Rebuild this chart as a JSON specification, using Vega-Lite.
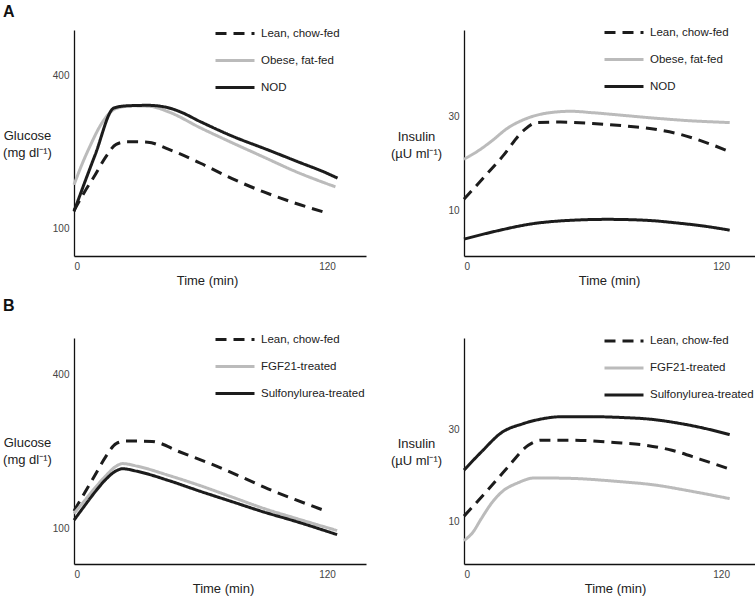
{
  "$schema": "https://vega.github.io/schema/vega-lite/v6.json",
  "background": "white",
  "padding": {"left": 2, "top": 4, "right": 0, "bottom": 2},
  "datasets": {
    "curves": [
      {"panel": "A-glu", "series": "Lean, chow-fed", "t": 0, "v": 136},
      {"panel": "A-glu", "series": "Lean, chow-fed", "t": 5, "v": 172},
      {"panel": "A-glu", "series": "Lean, chow-fed", "t": 10, "v": 205},
      {"panel": "A-glu", "series": "Lean, chow-fed", "t": 15, "v": 240},
      {"panel": "A-glu", "series": "Lean, chow-fed", "t": 20, "v": 265},
      {"panel": "A-glu", "series": "Lean, chow-fed", "t": 25, "v": 270},
      {"panel": "A-glu", "series": "Lean, chow-fed", "t": 35, "v": 269},
      {"panel": "A-glu", "series": "Lean, chow-fed", "t": 45, "v": 255},
      {"panel": "A-glu", "series": "Lean, chow-fed", "t": 60, "v": 228},
      {"panel": "A-glu", "series": "Lean, chow-fed", "t": 75, "v": 198},
      {"panel": "A-glu", "series": "Lean, chow-fed", "t": 90, "v": 172},
      {"panel": "A-glu", "series": "Lean, chow-fed", "t": 105, "v": 150},
      {"panel": "A-glu", "series": "Lean, chow-fed", "t": 120, "v": 131},
      {"panel": "A-glu", "series": "Obese, fat-fed", "t": 0, "v": 186},
      {"panel": "A-glu", "series": "Obese, fat-fed", "t": 4, "v": 228},
      {"panel": "A-glu", "series": "Obese, fat-fed", "t": 8, "v": 265},
      {"panel": "A-glu", "series": "Obese, fat-fed", "t": 12, "v": 298},
      {"panel": "A-glu", "series": "Obese, fat-fed", "t": 16, "v": 322},
      {"panel": "A-glu", "series": "Obese, fat-fed", "t": 20, "v": 335},
      {"panel": "A-glu", "series": "Obese, fat-fed", "t": 28, "v": 340},
      {"panel": "A-glu", "series": "Obese, fat-fed", "t": 36, "v": 339},
      {"panel": "A-glu", "series": "Obese, fat-fed", "t": 45, "v": 328},
      {"panel": "A-glu", "series": "Obese, fat-fed", "t": 60, "v": 297},
      {"panel": "A-glu", "series": "Obese, fat-fed", "t": 75, "v": 268},
      {"panel": "A-glu", "series": "Obese, fat-fed", "t": 90, "v": 240},
      {"panel": "A-glu", "series": "Obese, fat-fed", "t": 105, "v": 212},
      {"panel": "A-glu", "series": "Obese, fat-fed", "t": 124, "v": 182},
      {"panel": "A-glu", "series": "NOD", "t": 0, "v": 134},
      {"panel": "A-glu", "series": "NOD", "t": 10, "v": 244},
      {"panel": "A-glu", "series": "NOD", "t": 19, "v": 336},
      {"panel": "A-glu", "series": "NOD", "t": 25, "v": 340},
      {"panel": "A-glu", "series": "NOD", "t": 35, "v": 341},
      {"panel": "A-glu", "series": "NOD", "t": 44, "v": 337},
      {"panel": "A-glu", "series": "NOD", "t": 50, "v": 329},
      {"panel": "A-glu", "series": "NOD", "t": 60, "v": 309},
      {"panel": "A-glu", "series": "NOD", "t": 75, "v": 281},
      {"panel": "A-glu", "series": "NOD", "t": 92, "v": 254},
      {"panel": "A-glu", "series": "NOD", "t": 108, "v": 228},
      {"panel": "A-glu", "series": "NOD", "t": 118, "v": 212},
      {"panel": "A-glu", "series": "NOD", "t": 125, "v": 199},

      {"panel": "A-ins", "series": "Lean, chow-fed", "t": 0, "v": 12.5},
      {"panel": "A-ins", "series": "Lean, chow-fed", "t": 9, "v": 17},
      {"panel": "A-ins", "series": "Lean, chow-fed", "t": 18, "v": 21.6},
      {"panel": "A-ins", "series": "Lean, chow-fed", "t": 28, "v": 27.2},
      {"panel": "A-ins", "series": "Lean, chow-fed", "t": 34, "v": 28.8},
      {"panel": "A-ins", "series": "Lean, chow-fed", "t": 45, "v": 28.9},
      {"panel": "A-ins", "series": "Lean, chow-fed", "t": 60, "v": 28.6},
      {"panel": "A-ins", "series": "Lean, chow-fed", "t": 75, "v": 28.1},
      {"panel": "A-ins", "series": "Lean, chow-fed", "t": 90, "v": 27.3},
      {"panel": "A-ins", "series": "Lean, chow-fed", "t": 100, "v": 26.4},
      {"panel": "A-ins", "series": "Lean, chow-fed", "t": 112, "v": 24.7},
      {"panel": "A-ins", "series": "Lean, chow-fed", "t": 124, "v": 22.6},
      {"panel": "A-ins", "series": "Obese, fat-fed", "t": 0, "v": 21},
      {"panel": "A-ins", "series": "Obese, fat-fed", "t": 6, "v": 22.6},
      {"panel": "A-ins", "series": "Obese, fat-fed", "t": 13, "v": 24.9},
      {"panel": "A-ins", "series": "Obese, fat-fed", "t": 20, "v": 27.5},
      {"panel": "A-ins", "series": "Obese, fat-fed", "t": 30, "v": 29.8},
      {"panel": "A-ins", "series": "Obese, fat-fed", "t": 40, "v": 30.9},
      {"panel": "A-ins", "series": "Obese, fat-fed", "t": 50, "v": 31.2},
      {"panel": "A-ins", "series": "Obese, fat-fed", "t": 60, "v": 30.9},
      {"panel": "A-ins", "series": "Obese, fat-fed", "t": 75, "v": 30.3},
      {"panel": "A-ins", "series": "Obese, fat-fed", "t": 90, "v": 29.7},
      {"panel": "A-ins", "series": "Obese, fat-fed", "t": 105, "v": 29.2},
      {"panel": "A-ins", "series": "Obese, fat-fed", "t": 124, "v": 28.8},
      {"panel": "A-ins", "series": "NOD", "t": 0, "v": 4.0},
      {"panel": "A-ins", "series": "NOD", "t": 15, "v": 5.7},
      {"panel": "A-ins", "series": "NOD", "t": 31, "v": 7.2},
      {"panel": "A-ins", "series": "NOD", "t": 50, "v": 8.0},
      {"panel": "A-ins", "series": "NOD", "t": 67, "v": 8.2},
      {"panel": "A-ins", "series": "NOD", "t": 85, "v": 8.0},
      {"panel": "A-ins", "series": "NOD", "t": 100, "v": 7.4},
      {"panel": "A-ins", "series": "NOD", "t": 113, "v": 6.7},
      {"panel": "A-ins", "series": "NOD", "t": 124, "v": 5.9},

      {"panel": "B-glu", "series": "Lean, chow-fed", "t": 0, "v": 135},
      {"panel": "B-glu", "series": "Lean, chow-fed", "t": 5, "v": 170},
      {"panel": "B-glu", "series": "Lean, chow-fed", "t": 10, "v": 205},
      {"panel": "B-glu", "series": "Lean, chow-fed", "t": 15, "v": 240},
      {"panel": "B-glu", "series": "Lean, chow-fed", "t": 20, "v": 266},
      {"panel": "B-glu", "series": "Lean, chow-fed", "t": 25, "v": 271},
      {"panel": "B-glu", "series": "Lean, chow-fed", "t": 37, "v": 270},
      {"panel": "B-glu", "series": "Lean, chow-fed", "t": 50, "v": 250},
      {"panel": "B-glu", "series": "Lean, chow-fed", "t": 67, "v": 223},
      {"panel": "B-glu", "series": "Lean, chow-fed", "t": 80, "v": 200},
      {"panel": "B-glu", "series": "Lean, chow-fed", "t": 92, "v": 178},
      {"panel": "B-glu", "series": "Lean, chow-fed", "t": 105, "v": 157},
      {"panel": "B-glu", "series": "Lean, chow-fed", "t": 120, "v": 134},
      {"panel": "B-glu", "series": "FGF21-treated", "t": 0, "v": 130},
      {"panel": "B-glu", "series": "FGF21-treated", "t": 5, "v": 155},
      {"panel": "B-glu", "series": "FGF21-treated", "t": 10, "v": 180},
      {"panel": "B-glu", "series": "FGF21-treated", "t": 15, "v": 203},
      {"panel": "B-glu", "series": "FGF21-treated", "t": 20, "v": 222},
      {"panel": "B-glu", "series": "FGF21-treated", "t": 23, "v": 227},
      {"panel": "B-glu", "series": "FGF21-treated", "t": 30, "v": 222},
      {"panel": "B-glu", "series": "FGF21-treated", "t": 45, "v": 204},
      {"panel": "B-glu", "series": "FGF21-treated", "t": 60, "v": 184},
      {"panel": "B-glu", "series": "FGF21-treated", "t": 75, "v": 162},
      {"panel": "B-glu", "series": "FGF21-treated", "t": 90, "v": 140},
      {"panel": "B-glu", "series": "FGF21-treated", "t": 105, "v": 121},
      {"panel": "B-glu", "series": "FGF21-treated", "t": 124.8, "v": 97},
      {"panel": "B-glu", "series": "Sulfonylurea-treated", "t": 0, "v": 117},
      {"panel": "B-glu", "series": "Sulfonylurea-treated", "t": 5, "v": 145},
      {"panel": "B-glu", "series": "Sulfonylurea-treated", "t": 10, "v": 172},
      {"panel": "B-glu", "series": "Sulfonylurea-treated", "t": 15, "v": 196},
      {"panel": "B-glu", "series": "Sulfonylurea-treated", "t": 20, "v": 213},
      {"panel": "B-glu", "series": "Sulfonylurea-treated", "t": 23, "v": 217},
      {"panel": "B-glu", "series": "Sulfonylurea-treated", "t": 30, "v": 212},
      {"panel": "B-glu", "series": "Sulfonylurea-treated", "t": 45, "v": 194},
      {"panel": "B-glu", "series": "Sulfonylurea-treated", "t": 60, "v": 173},
      {"panel": "B-glu", "series": "Sulfonylurea-treated", "t": 75, "v": 153},
      {"panel": "B-glu", "series": "Sulfonylurea-treated", "t": 90, "v": 133},
      {"panel": "B-glu", "series": "Sulfonylurea-treated", "t": 105, "v": 115},
      {"panel": "B-glu", "series": "Sulfonylurea-treated", "t": 124.8, "v": 89},

      {"panel": "B-ins", "series": "Lean, chow-fed", "t": 0, "v": 11.1},
      {"panel": "B-ins", "series": "Lean, chow-fed", "t": 10, "v": 16.2},
      {"panel": "B-ins", "series": "Lean, chow-fed", "t": 20, "v": 21.5},
      {"panel": "B-ins", "series": "Lean, chow-fed", "t": 30, "v": 26.5},
      {"panel": "B-ins", "series": "Lean, chow-fed", "t": 36, "v": 27.6},
      {"panel": "B-ins", "series": "Lean, chow-fed", "t": 50, "v": 27.6},
      {"panel": "B-ins", "series": "Lean, chow-fed", "t": 70, "v": 27.1},
      {"panel": "B-ins", "series": "Lean, chow-fed", "t": 85, "v": 26.5},
      {"panel": "B-ins", "series": "Lean, chow-fed", "t": 97, "v": 25.4},
      {"panel": "B-ins", "series": "Lean, chow-fed", "t": 110, "v": 23.5},
      {"panel": "B-ins", "series": "Lean, chow-fed", "t": 124, "v": 21.3},
      {"panel": "B-ins", "series": "FGF21-treated", "t": 0, "v": 5.8},
      {"panel": "B-ins", "series": "FGF21-treated", "t": 4, "v": 7.5},
      {"panel": "B-ins", "series": "FGF21-treated", "t": 8, "v": 10.5},
      {"panel": "B-ins", "series": "FGF21-treated", "t": 13, "v": 14},
      {"panel": "B-ins", "series": "FGF21-treated", "t": 18, "v": 16.5},
      {"panel": "B-ins", "series": "FGF21-treated", "t": 25, "v": 18.3},
      {"panel": "B-ins", "series": "FGF21-treated", "t": 33, "v": 19.4},
      {"panel": "B-ins", "series": "FGF21-treated", "t": 50, "v": 19.3},
      {"panel": "B-ins", "series": "FGF21-treated", "t": 70, "v": 18.7},
      {"panel": "B-ins", "series": "FGF21-treated", "t": 90, "v": 17.8},
      {"panel": "B-ins", "series": "FGF21-treated", "t": 105, "v": 16.6},
      {"panel": "B-ins", "series": "FGF21-treated", "t": 124, "v": 14.9},
      {"panel": "B-ins", "series": "Sulfonylurea-treated", "t": 0, "v": 21.1},
      {"panel": "B-ins", "series": "Sulfonylurea-treated", "t": 8, "v": 25},
      {"panel": "B-ins", "series": "Sulfonylurea-treated", "t": 17.7, "v": 29.3},
      {"panel": "B-ins", "series": "Sulfonylurea-treated", "t": 27, "v": 31.1},
      {"panel": "B-ins", "series": "Sulfonylurea-treated", "t": 35, "v": 32.1},
      {"panel": "B-ins", "series": "Sulfonylurea-treated", "t": 45.7, "v": 32.7},
      {"panel": "B-ins", "series": "Sulfonylurea-treated", "t": 60, "v": 32.7},
      {"panel": "B-ins", "series": "Sulfonylurea-treated", "t": 75, "v": 32.5},
      {"panel": "B-ins", "series": "Sulfonylurea-treated", "t": 86, "v": 32.2},
      {"panel": "B-ins", "series": "Sulfonylurea-treated", "t": 100, "v": 31.3},
      {"panel": "B-ins", "series": "Sulfonylurea-treated", "t": 112, "v": 30.2},
      {"panel": "B-ins", "series": "Sulfonylurea-treated", "t": 124, "v": 28.8}
    ]
  },
  "config": {
    "view": {"stroke": null},
    "font": "Liberation Sans",
    "axis": {
      "grid": false,
      "ticks": false,
      "tickSize": 0,
      "domainColor": "#111111",
      "domainWidth": 1.3,
      "labelFont": "Liberation Sans",
      "labelFontSize": 10,
      "labelColor": "#444444",
      "titleFont": "Liberation Sans",
      "titleFontSize": 13,
      "titleFontWeight": "normal",
      "titleColor": "#222222"
    },
    "legend": {
      "orient": "none",
      "title": null,
      "symbolType": "stroke",
      "symbolSize": 1521,
      "symbolStrokeWidth": 3,
      "labelFont": "Liberation Sans",
      "labelFontSize": 11.5,
      "labelColor": "#222222",
      "labelOffset": 5,
      "rowPadding": -9,
      "padding": 0
    },
    "title": {"font": "Liberation Sans", "fontSize": 16, "fontWeight": "bold", "color": "#111111", "anchor": "start", "frame": "group"}
  },
  "columns": 2,
  "bounds": "flush",
  "spacing": {"row": 82, "column": 98},
  "resolve": {
    "scale": {"x": "independent", "y": "independent", "color": "independent", "strokeDash": "independent"},
    "legend": {"color": "independent", "strokeDash": "independent"}
  },
  "concat": [
    {
      "title": {"text": "A", "dx": -71, "offset": -7.7},
      "width": 292,
      "height": 226,
      "data": {"name": "curves"},
      "transform": [{"filter": "datum.panel === 'A-glu'"}],
      "mark": {"type": "line", "interpolate": "monotone", "strokeWidth": 3},
      "encoding": {
        "x": {"field": "t", "type": "quantitative", "scale": {"domain": [0, 138.5], "nice": false, "zero": false},
          "axis": {"values": [0, 120], "title": "Time (min)", "labelPadding": 5, "titlePadding": 3, "titleX": 133}},
        "y": {"field": "v", "type": "quantitative", "scale": {"domain": [47, 488], "nice": false, "zero": false},
          "axis": {"values": [100, 400], "title": ["Glucose", "(mg dl⁻¹)"], "titleAngle": 0, "titleAlign": "center", "titleBaseline": "middle", "titleX": -47, "titleY": 105, "titleLineHeight": 17, "labelPadding": 5}},
        "color": {"field": "series", "type": "nominal",
          "scale": {"domain": ["Lean, chow-fed", "Obese, fat-fed", "NOD"], "range": ["#1c1c1c", "#bbbbbb", "#1c1c1c"]},
          "legend": {"legendX": 140, "legendY": -17.5}},
        "strokeDash": {"field": "series", "type": "nominal",
          "scale": {"domain": ["Lean, chow-fed", "Obese, fat-fed", "NOD"], "range": [[11, 7], [1, 0], [1, 0]]},
          "legend": {"legendX": 140, "legendY": -17.5}}
      }
    },
    {
      "width": 291,
      "height": 226,
      "data": {"name": "curves"},
      "transform": [{"filter": "datum.panel === 'A-ins'"}],
      "mark": {"type": "line", "interpolate": "monotone", "strokeWidth": 3},
      "encoding": {
        "x": {"field": "t", "type": "quantitative", "scale": {"domain": [0, 135.8], "nice": false, "zero": false},
          "axis": {"values": [0, 120], "title": "Time (min)", "labelPadding": 5, "titlePadding": 3, "titleX": 145}},
        "y": {"field": "v", "type": "quantitative", "scale": {"domain": [0.4, 48.5], "nice": false, "zero": false},
          "axis": {"values": [10, 30], "title": ["Insulin", "(µU ml⁻¹)"], "titleAngle": 0, "titleAlign": "center", "titleBaseline": "middle", "titleX": -48, "titleY": 106, "titleLineHeight": 17, "labelPadding": 5}},
        "color": {"field": "series", "type": "nominal",
          "scale": {"domain": ["Lean, chow-fed", "Obese, fat-fed", "NOD"], "range": ["#1c1c1c", "#bbbbbb", "#1c1c1c"]},
          "legend": {"legendX": 139, "legendY": -18.5}},
        "strokeDash": {"field": "series", "type": "nominal",
          "scale": {"domain": ["Lean, chow-fed", "Obese, fat-fed", "NOD"], "range": [[11, 7], [1, 0], [1, 0]]},
          "legend": {"legendX": 139, "legendY": -18.5}}
      }
    },
    {
      "title": {"text": "B", "dx": -71, "offset": 4.7},
      "width": 292,
      "height": 226,
      "data": {"name": "curves"},
      "transform": [{"filter": "datum.panel === 'B-glu'"}],
      "mark": {"type": "line", "interpolate": "monotone", "strokeWidth": 3},
      "encoding": {
        "x": {"field": "t", "type": "quantitative", "scale": {"domain": [0, 138.5], "nice": false, "zero": false},
          "axis": {"values": [0, 120], "title": "Time (min)", "labelPadding": 5, "titlePadding": 3, "titleX": 149}},
        "y": {"field": "v", "type": "quantitative", "scale": {"domain": [32, 471], "nice": false, "zero": false},
          "axis": {"values": [100, 400], "title": ["Glucose", "(mg dl⁻¹)"], "titleAngle": 0, "titleAlign": "center", "titleBaseline": "middle", "titleX": -47, "titleY": 104, "titleLineHeight": 17, "labelPadding": 5}},
        "color": {"field": "series", "type": "nominal",
          "scale": {"domain": ["Lean, chow-fed", "FGF21-treated", "Sulfonylurea-treated"], "range": ["#1c1c1c", "#bbbbbb", "#1c1c1c"]},
          "legend": {"legendX": 140, "legendY": -19.5}},
        "strokeDash": {"field": "series", "type": "nominal",
          "scale": {"domain": ["Lean, chow-fed", "FGF21-treated", "Sulfonylurea-treated"], "range": [[11, 7], [1, 0], [1, 0]]},
          "legend": {"legendX": 140, "legendY": -19.5}}
      }
    },
    {
      "width": 291,
      "height": 226,
      "data": {"name": "curves"},
      "transform": [{"filter": "datum.panel === 'B-ins'"}],
      "mark": {"type": "line", "interpolate": "monotone", "strokeWidth": 3},
      "encoding": {
        "x": {"field": "t", "type": "quantitative", "scale": {"domain": [0, 135.8], "nice": false, "zero": false},
          "axis": {"values": [0, 120], "title": "Time (min)", "labelPadding": 5, "titlePadding": 3, "titleX": 151}},
        "y": {"field": "v", "type": "quantitative", "scale": {"domain": [0.7, 49.8], "nice": false, "zero": false},
          "axis": {"values": [10, 30], "title": ["Insulin", "(µU ml⁻¹)"], "titleAngle": 0, "titleAlign": "center", "titleBaseline": "middle", "titleX": -48, "titleY": 105.5, "titleLineHeight": 17, "labelPadding": 5}},
        "color": {"field": "series", "type": "nominal",
          "scale": {"domain": ["Lean, chow-fed", "FGF21-treated", "Sulfonylurea-treated"], "range": ["#1c1c1c", "#bbbbbb", "#1c1c1c"]},
          "legend": {"legendX": 139, "legendY": -18}},
        "strokeDash": {"field": "series", "type": "nominal",
          "scale": {"domain": ["Lean, chow-fed", "FGF21-treated", "Sulfonylurea-treated"], "range": [[11, 7], [1, 0], [1, 0]]},
          "legend": {"legendX": 139, "legendY": -18}}
      }
    }
  ]
}
